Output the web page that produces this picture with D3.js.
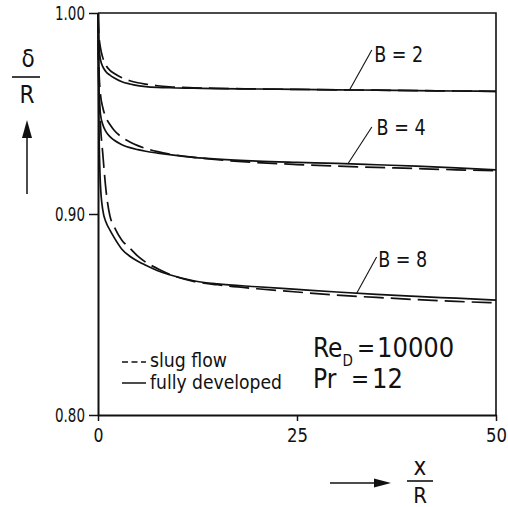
<!DOCTYPE html>
<html>
<head>
<meta charset="utf-8">
<script src="https://cdn.jsdelivr.net/npm/d3@7"></script>
<style>
  html, body { margin: 0; padding: 0; background: #fff; }
  svg { display: block; }
  text { font-family: "DejaVu Sans Condensed", "DejaVu Sans", sans-serif; fill: #111; }
</style>
</head>
<body>
<svg id="chart" width="508" height="507"></svg>
<script>
// ---- data ----
const xs = [0, 0.1, 0.3, 0.6, 1, 1.5, 2, 3, 4, 5, 6, 7.5, 9, 12, 15, 20, 25, 30, 35, 40, 45, 50];

const b2Fully = [1.0, 0.985, 0.977, 0.9733, 0.9708, 0.9691, 0.9678, 0.9658, 0.9647, 0.9639, 0.9634, 0.9630, 0.9628, 0.9626, 0.9624, 0.9622, 0.9620, 0.9618, 0.9616, 0.9614, 0.9612, 0.9610];
const b2Slug  = [1.0, 0.990, 0.983, 0.9778, 0.9740, 0.9715, 0.9700, 0.9678, 0.9663, 0.9653, 0.9646, 0.9638, 0.9633, 0.9628, 0.9625, 0.9622, 0.9620, 0.9618, 0.9616, 0.9614, 0.9612, 0.9610];

const b4Fully = [1.0, 0.965, 0.950, 0.9445, 0.9410, 0.9385, 0.9368, 0.9345, 0.9330, 0.9320, 0.9312, 0.9303, 0.9295, 0.9282, 0.9273, 0.9263, 0.9257, 0.9252, 0.9245, 0.9238, 0.9229, 0.9220];
const b4Slug  = [1.0, 0.975, 0.960, 0.9530, 0.9480, 0.9445, 0.9418, 0.9382, 0.9358, 0.9340, 0.9326, 0.9310, 0.9298, 0.9282, 0.9270, 0.9256, 0.9246, 0.9238, 0.9232, 0.9226, 0.9220, 0.9215];

const b8Fully = [1.0, 0.950, 0.915, 0.9020, 0.8960, 0.8920, 0.8885, 0.8825, 0.8790, 0.8765, 0.8745, 0.8718, 0.8698, 0.8668, 0.8652, 0.8638, 0.8625, 0.8612, 0.8600, 0.8590, 0.8581, 0.8572];
const b8Slug  = [1.0, 0.965, 0.945, 0.9300, 0.9120, 0.8990, 0.8940, 0.8870, 0.8830, 0.8790, 0.8760, 0.8728, 0.8700, 0.8665, 0.8648, 0.8628, 0.8612, 0.8596, 0.8585, 0.8574, 0.8565, 0.8558];

const xTicks = [0, 25, 50];
const yTicks = [0.80, 0.90, 1.00];

const curveLabels = ["B = 2", "B = 4", "B = 8"];
// leader lines: start on curve, end near label (data units)
const leaderFrom = [[31.6, 0.9617], [31.4, 0.9250], [32.5, 0.8606]];
const leaderTo   = [[34.4, 0.9816], [34.4, 0.9433], [35.0, 0.8786]];
const labelAt    = [[34.7, 0.9756], [35.0, 0.9393], [35.2, 0.8736]];

const legendItems = ["slug flow", "fully developed"];

// ---- drawing ----
const svg = d3.select("#chart");
const x = d3.scaleLinear().domain([0, 50]).range([98, 496]);
const y = d3.scaleLinear().domain([0.80, 1.00]).range([415, 13]);

const ink = "#111";
const fit = (sel, len) => sel.attr("textLength", len).attr("lengthAdjust", "spacingAndGlyphs");

// frame (top and right edges)
svg.append("path")
  .attr("d", `M${x(0)},${y(1)}H${x(50)}V${y(0.8)}`)
  .attr("fill", "none").attr("stroke", ink).attr("stroke-width", 1.6);

// axes
const yAxis = svg.append("g").attr("transform", `translate(${x(0)},0)`)
  .call(d3.axisLeft(y).tickValues(yTicks).tickFormat(d3.format(".2f")).tickSize(9).tickPadding(4).tickSizeOuter(0));
const xAxis = svg.append("g").attr("transform", `translate(0,${y(0.8)})`)
  .call(d3.axisBottom(x).tickValues(xTicks).tickFormat(d3.format("d")).tickSize(6).tickPadding(7).tickSizeOuter(0));
[yAxis, xAxis].forEach(g => {
  g.select(".domain").attr("stroke", ink).attr("stroke-width", 2);
  g.selectAll(".tick line").attr("stroke", ink).attr("stroke-width", 1.5);
  g.selectAll(".tick text").attr("fill", ink).style("font-size", "20px")
    .style("font-family", '"DejaVu Sans Condensed", "DejaVu Sans", sans-serif');
});
yAxis.selectAll(".tick text").call(fit, 30);
xAxis.selectAll(".tick text").filter(d => d !== 0).call(fit, 21);
xAxis.selectAll(".tick text").filter(d => d === 0).call(fit, 10);

// curves
const line = d3.line().x(d => x(d[0])).y(d => y(d[1])).curve(d3.curveMonotoneX);
const series = [
  { v: b2Slug, dash: "20,7" }, { v: b2Fully, dash: null },
  { v: b4Slug, dash: "20,7" }, { v: b4Fully, dash: null },
  { v: b8Slug, dash: "20,7" }, { v: b8Fully, dash: null }
];
series.forEach(s => {
  svg.append("path")
    .datum(xs.map((xv, i) => [xv, s.v[i]]))
    .attr("d", line)
    .attr("fill", "none")
    .attr("stroke", ink)
    .attr("stroke-width", 1.7)
    .attr("stroke-dasharray", s.dash);
});

// curve labels with leader lines
curveLabels.forEach((t, i) => {
  svg.append("line")
    .attr("x1", x(leaderFrom[i][0])).attr("y1", y(leaderFrom[i][1]))
    .attr("x2", x(leaderTo[i][0])).attr("y2", y(leaderTo[i][1]))
    .attr("stroke", ink).attr("stroke-width", 1.1);
  svg.append("text")
    .attr("x", x(labelAt[i][0])).attr("y", y(labelAt[i][1]))
    .attr("xml:space", "preserve")
    .style("font-size", "22px").call(fit, 49).text(t);
});

// legend
svg.append("line").attr("x1", 122).attr("x2", 146).attr("y1", 362).attr("y2", 362)
  .attr("stroke", ink).attr("stroke-width", 1.5).attr("stroke-dasharray", "6,3.5");
svg.append("line").attr("x1", 122).attr("x2", 146).attr("y1", 383).attr("y2", 383)
  .attr("stroke", ink).attr("stroke-width", 1.5);
svg.append("text").attr("x", 150).attr("y", 367).style("font-size", "20px")
  .call(fit, 77).text(legendItems[0]);
svg.append("text").attr("x", 150).attr("y", 389).style("font-size", "20px")
  .call(fit, 132).text(legendItems[1]);

// parameters (natural widths, laid out side by side)
const re = svg.append("text").attr("x", 313).attr("y", 357).style("font-size", "26px");
re.append("tspan").text("Re");
re.append("tspan").attr("dy", 9).style("font-size", "15px").text("D");
svg.append("text").attr("x", 357).attr("y", 356).style("font-size", "24px").text("=");
svg.append("text").attr("x", 377).attr("y", 357).style("font-size", "27px").text("10000");
svg.append("text").attr("x", 313).attr("y", 388).style("font-size", "26px").text("Pr");
svg.append("text").attr("x", 351).attr("y", 387).style("font-size", "24px").text("=");
svg.append("text").attr("x", 372).attr("y", 388).style("font-size", "27px").text("12");

// y-axis label: delta / R with arrow
svg.append("text").attr("x", 28).attr("y", 67).attr("text-anchor", "middle").style("font-size", "24px").text("δ");
svg.append("line").attr("x1", 12).attr("x2", 40).attr("y1", 77).attr("y2", 77).attr("stroke", ink).attr("stroke-width", 1.6);
svg.append("text").attr("x", 27).attr("y", 103).attr("text-anchor", "middle").style("font-size", "24px").text("R");
svg.append("line").attr("x1", 27).attr("x2", 27).attr("y1", 194).attr("y2", 132).attr("stroke", ink).attr("stroke-width", 1.5);
svg.append("path").attr("d", "M27,120L22,138L32,138Z").attr("fill", ink);

// x-axis label: x / R with arrow
svg.append("line").attr("x1", 330).attr("x2", 378).attr("y1", 483).attr("y2", 483).attr("stroke", ink).attr("stroke-width", 1.5);
svg.append("path").attr("d", "M391,483L374,478.5L374,487.5Z").attr("fill", ink);
svg.append("text").attr("x", 420).attr("y", 475).attr("text-anchor", "middle").style("font-size", "24px").text("x");
svg.append("line").attr("x1", 407).attr("x2", 433).attr("y1", 481).attr("y2", 481).attr("stroke", ink).attr("stroke-width", 1.6);
svg.append("text").attr("x", 420).attr("y", 503).attr("text-anchor", "middle").style("font-size", "22px").text("R");
</script>
</body>
</html>
